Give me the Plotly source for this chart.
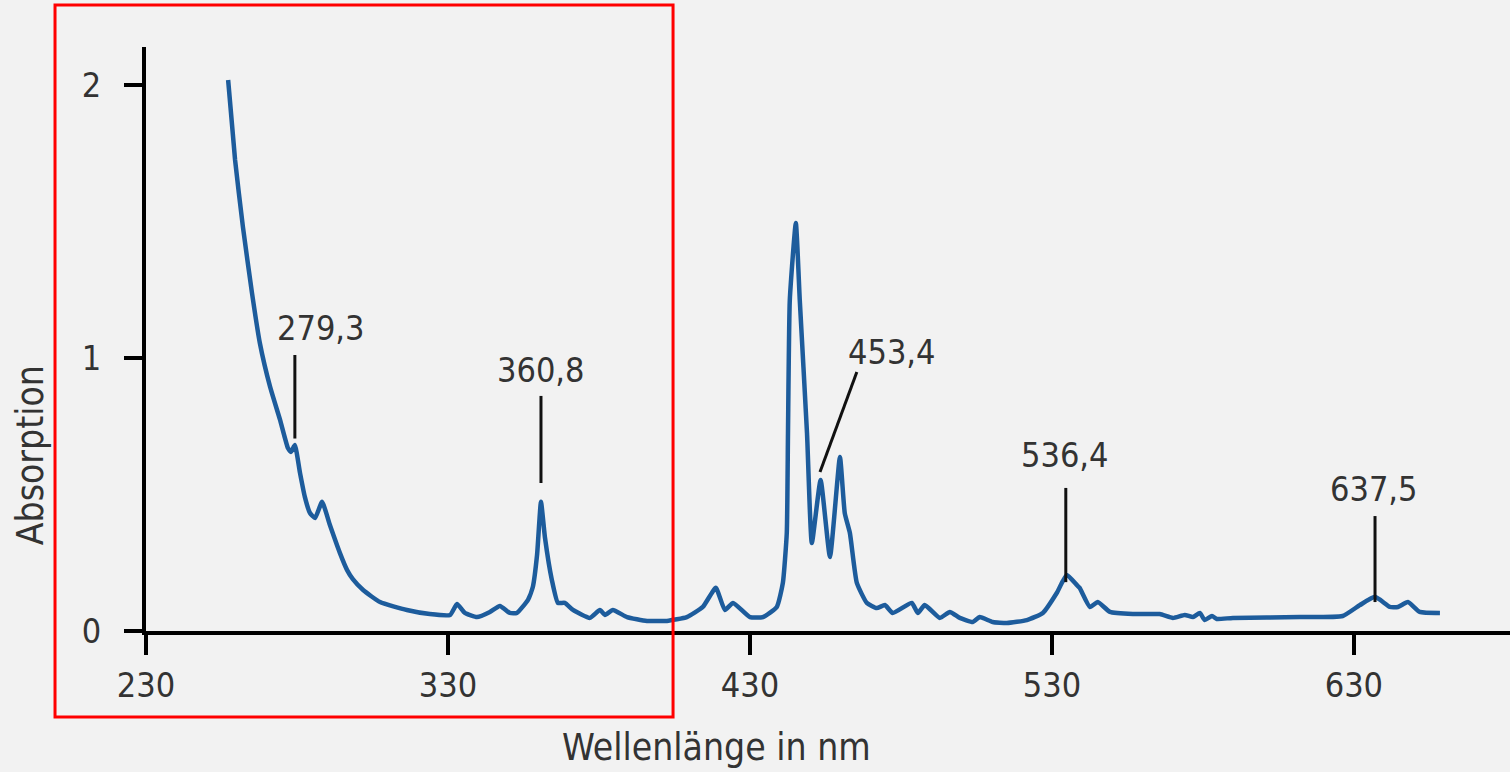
import plotly.graph_objects as go

# Spectrum (wavelength in nm, absorption)
wavelength = [257.2, 259.5, 262.1, 265.1, 267.7, 271.1, 274.4, 277.0, 278.0, 279.3,
              281.0, 282.6, 284.3, 286.0, 288.3, 290.9, 294.2, 296.6, 298.5, 301.9,
              307.5, 316.4, 324.0, 330.7, 333.0, 335.6, 339.6, 343.9, 347.2, 350.5,
              352.8, 356.5, 358.1, 359.5, 360.8, 362.1, 364.4, 366.4, 368.7, 371.4,
              377.0, 380.3, 382.0, 384.6, 389.3, 395.9, 402.5, 409.1, 414.4, 418.7,
              421.7, 424.4, 430.0, 434.3, 438.9, 440.9, 442.2, 442.6, 443.2, 445.2,
              446.5, 448.9, 450.5, 453.4, 456.5, 459.8, 461.4, 463.1, 465.4, 468.7,
              472.0, 474.7, 477.3, 483.6, 485.6, 487.9, 492.9, 496.2, 499.5, 503.8,
              506.1, 510.4, 515.1, 521.7, 527.0, 531.6, 534.9, 538.3, 539.2, 542.6,
              545.2, 549.2, 556.8, 565.7, 570.1, 574.0, 576.7, 579.0, 580.6, 583.0,
              584.6, 589.9, 612.1, 626.3, 632.0, 637.0, 641.9, 644.6, 647.9, 651.8,
              658.5]
absorption = [2.018, 1.725, 1.480, 1.238, 1.055, 0.894, 0.773, 0.670, 0.656, 0.681,
              0.579, 0.491, 0.432, 0.414, 0.473, 0.388, 0.286, 0.223, 0.190, 0.150,
              0.106, 0.077, 0.062, 0.059, 0.099, 0.066, 0.051, 0.070, 0.092, 0.066,
              0.066, 0.114, 0.161, 0.278, 0.473, 0.344, 0.187, 0.103, 0.103, 0.077,
              0.048, 0.077, 0.059, 0.077, 0.051, 0.037, 0.037, 0.051, 0.088, 0.158,
              0.077, 0.103, 0.051, 0.051, 0.088, 0.176, 0.359, 0.725, 1.212, 1.494,
              1.212, 0.725, 0.322, 0.553, 0.271, 0.637, 0.432, 0.359, 0.176, 0.103,
              0.084, 0.095, 0.066, 0.103, 0.066, 0.095, 0.048, 0.070, 0.048, 0.033,
              0.051, 0.033, 0.029, 0.040, 0.066, 0.139, 0.205, 0.168, 0.158, 0.088,
              0.106, 0.070, 0.062, 0.062, 0.048, 0.059, 0.051, 0.066, 0.040, 0.055,
              0.044, 0.048, 0.051, 0.055, 0.095, 0.125, 0.088, 0.088, 0.106, 0.070,
              0.066]

# Tick labels
x_ticks = [230, 330, 430, 530, 630]
y_ticks = [0, 1, 2]

# Peak labels and their leader lines
peak_labels = ["279,3", "360,8", "453,4", "536,4", "637,5"]
label_x = [287.9, 360.8, 477.0, 534.3, 636.6]
label_y = [1.110, 0.955, 1.022, 0.645, 0.520]
lead_x0 = [279.3, 360.8, 453.2, 534.6, 637.0]
lead_y0 = [0.705, 0.542, 0.582, 0.179, 0.106]
lead_x1 = [279.3, 360.8, 465.4, 534.6, 637.0]
lead_y1 = [1.011, 0.861, 0.949, 0.524, 0.421]

FONT = "DejaVu Sans Condensed, Liberation Sans Narrow, DejaVu Sans, sans-serif"
TXT = "#333333"
BG = "#f2f2f2"

fig = go.Figure()
fig.add_trace(go.Scatter(
    x=wavelength, y=absorption, mode="lines",
    line=dict(color="#1d5c9c", width=4.5, shape="spline", smoothing=0.45),
    hoverinfo="skip", showlegend=False,
))

for lab, tx, ty, x0, y0, x1, y1 in zip(peak_labels, label_x, label_y,
                                        lead_x0, lead_y0, lead_x1, lead_y1):
    fig.add_shape(type="line", xref="x", yref="y", x0=x0, y0=y0, x1=x1, y1=y1,
                  line=dict(color="#111111", width=3))
    fig.add_annotation(x=tx, y=ty, xref="x", yref="y", text=lab, showarrow=False,
                       font=dict(family=FONT, size=34, color=TXT),
                       xanchor="center", yanchor="middle")

# axis titles
fig.add_annotation(x=-0.085, y=0.301, xref="paper", yref="paper", text="Absorption",
                   textangle=-90, showarrow=False, xanchor="center", yanchor="middle",
                   font=dict(family=FONT, size=37, color=TXT))
fig.add_annotation(x=0.418, y=-0.200, xref="paper", yref="paper", text="Wellenlänge in nm",
                   showarrow=False, xanchor="center", yanchor="middle",
                   font=dict(family=FONT, size=37, color=TXT))

# red highlight frame
fig.add_shape(type="rect", xref="paper", yref="paper",
              x0=-0.0667, x1=0.3864, y0=-0.1473, y1=1.0719,
              line=dict(color="#ff0000", width=3), fillcolor="rgba(0,0,0,0)")

fig.update_layout(
    width=1510, height=772,
    margin=dict(l=146, r=0, t=47, b=141),
    paper_bgcolor=BG, plot_bgcolor=BG,
    xaxis=dict(range=[230, 681.7], tickvals=x_ticks, ticktext=[str(v) for v in x_ticks],
               showgrid=False, zeroline=False, showline=True, linecolor="#000000",
               linewidth=4, ticks="outside", ticklen=20, tickwidth=4, tickcolor="#000000",
               tickfont=dict(family=FONT, size=34, color=TXT), ticklabelstandoff=1),
    yaxis=dict(range=[0, 2.139], tickvals=y_ticks, ticktext=[str(v) for v in y_ticks],
               showgrid=False, zeroline=False, showline=True, linecolor="#000000",
               linewidth=4, ticks="outside", ticklen=18, tickwidth=4, tickcolor="#000000",
               tickfont=dict(family=FONT, size=34, color=TXT), ticklabelstandoff=16),
)

fig.write_html("out.html",
               config={"displayModeBar": False},
               post_script="document.body.style.margin='0';"
                           "document.body.style.background='#f2f2f2';")
